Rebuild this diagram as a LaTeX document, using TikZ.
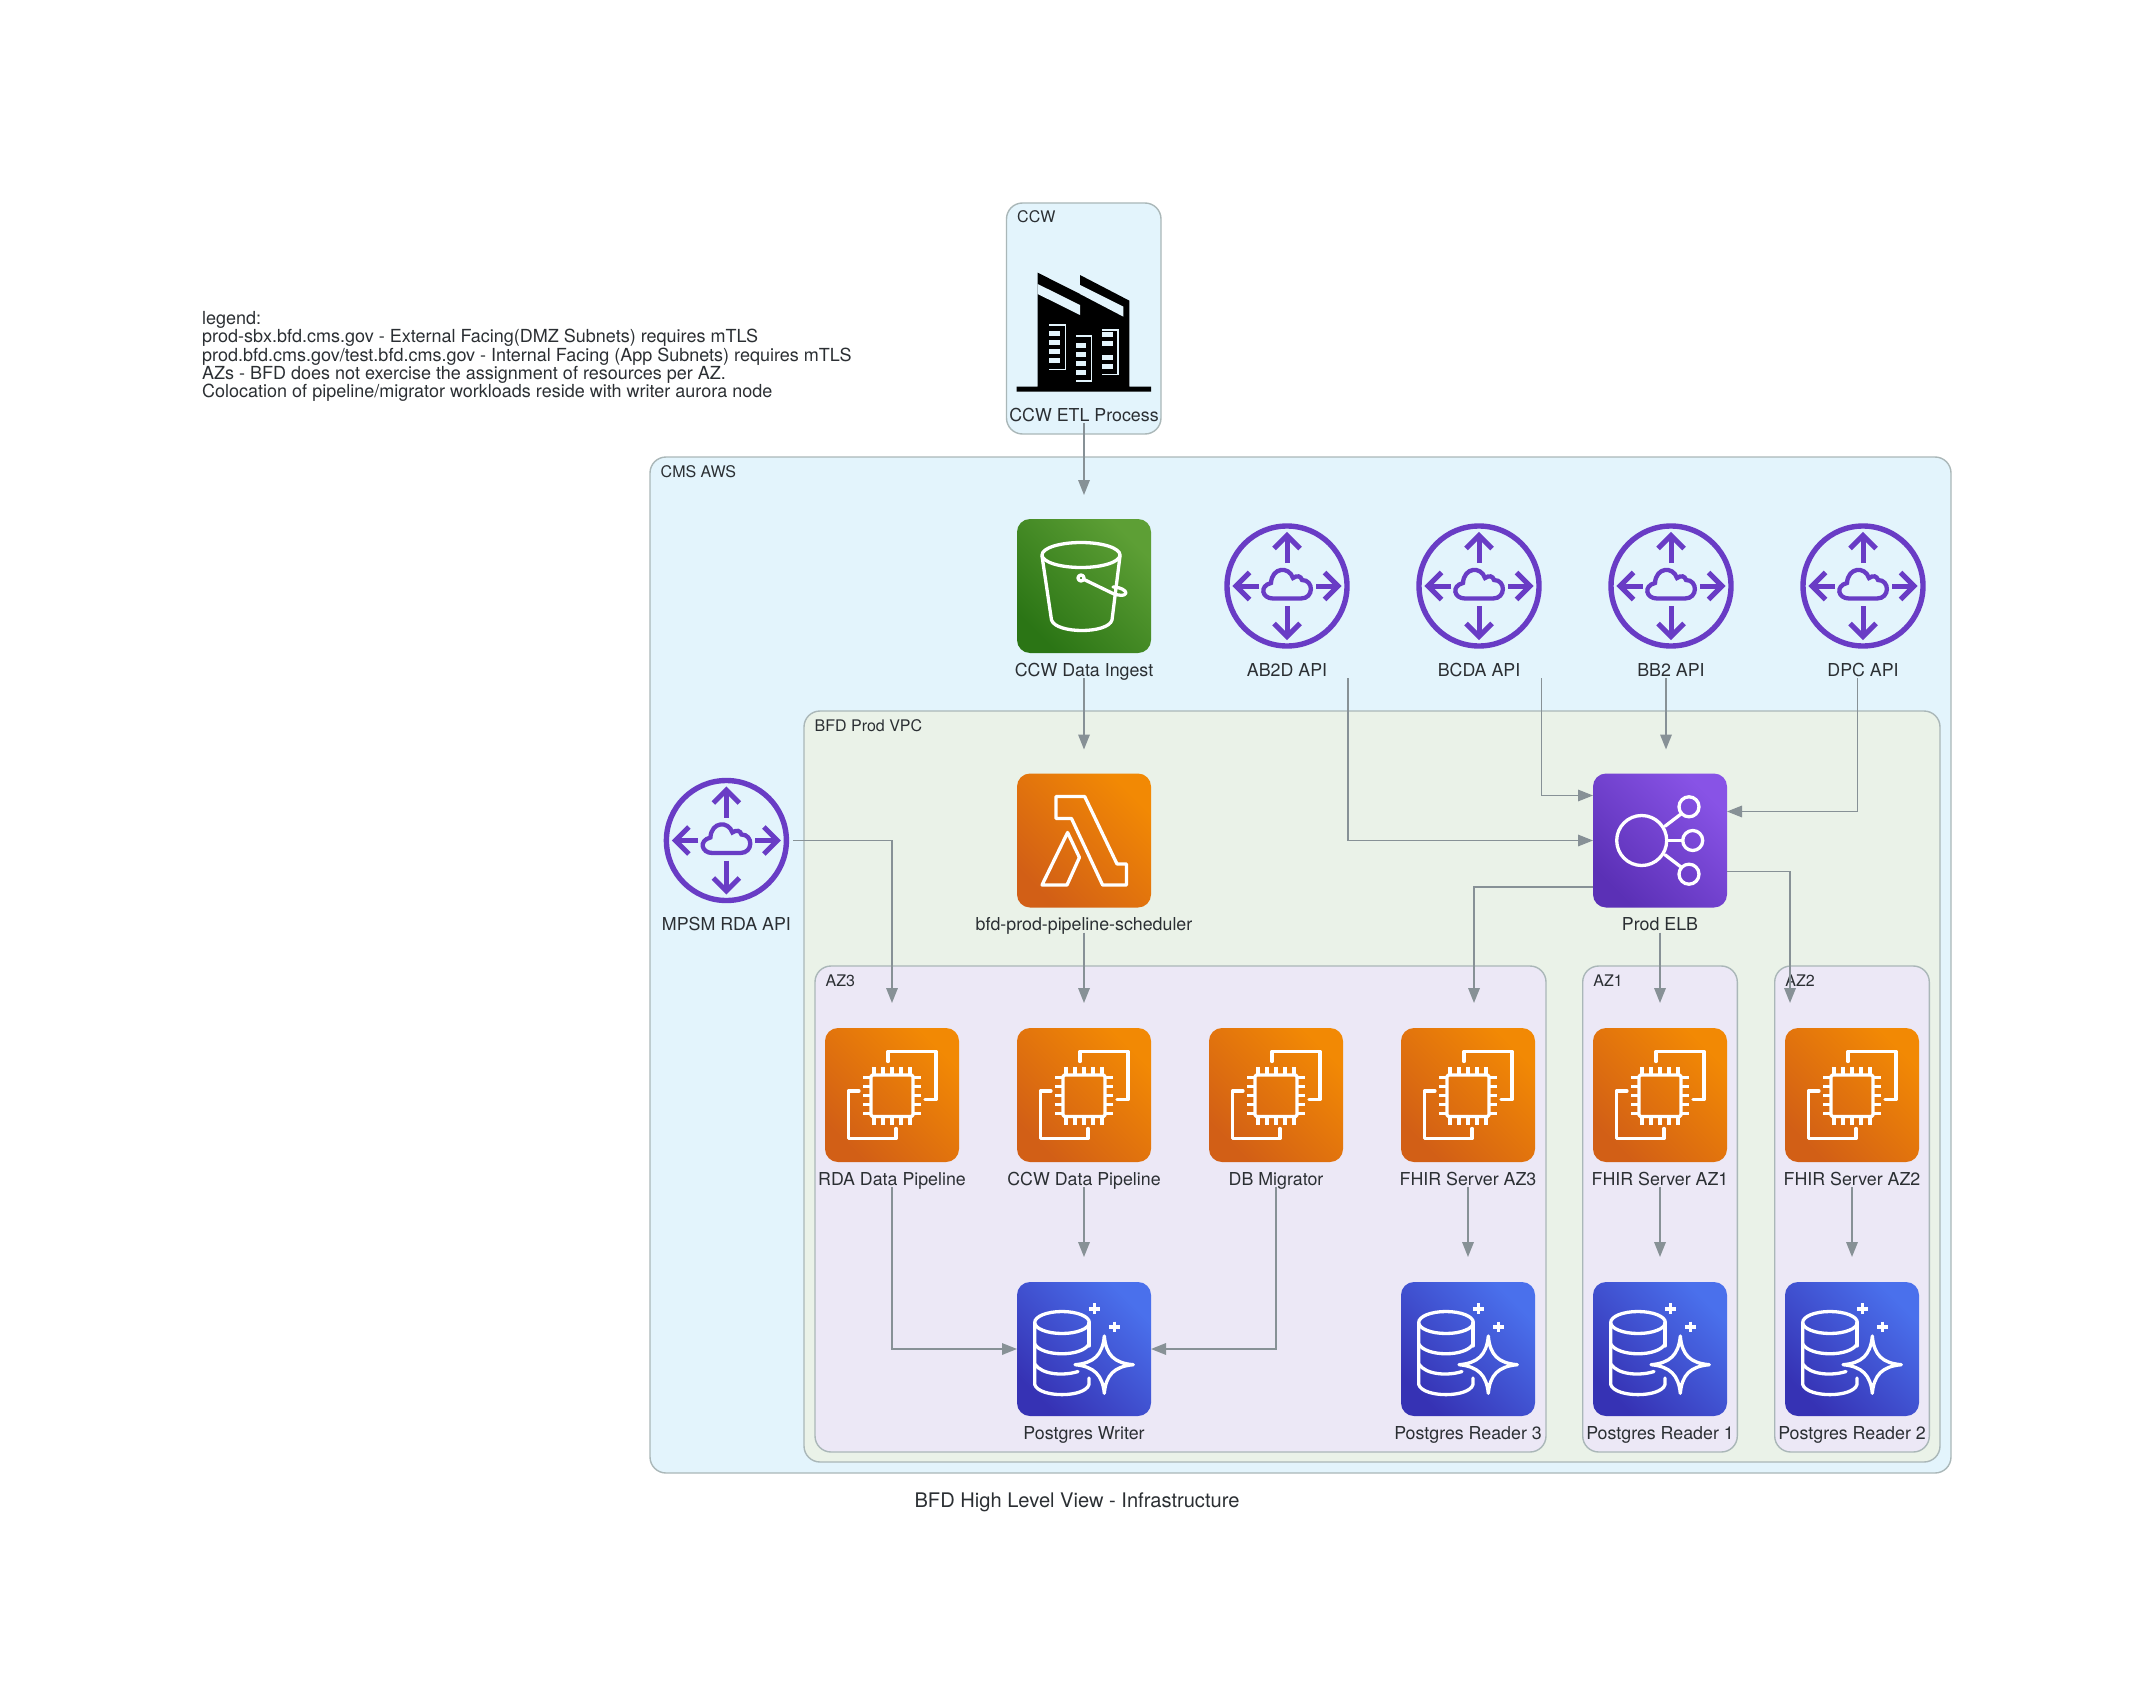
\documentclass[tikz,border=0pt]{standalone}
\usepackage{fontspec}
\setmainfont{TeX Gyre Heros}
\usepackage{xcolor}
\usepackage{tikz}
\usetikzlibrary{positioning}
\usetikzlibrary{arrows.meta}

\definecolor{cmsblue}{HTML}{E3F4FC}
\definecolor{vpcgreen}{HTML}{EAF2E8}
\definecolor{azlilac}{HTML}{ECE8F6}
\definecolor{edgegrey}{HTML}{AAB7B8}
\definecolor{flowgrey}{HTML}{879196}
\definecolor{inkgrey}{HTML}{2B2F33}
\definecolor{routerviolet}{HTML}{693CC5}
\definecolor{ec2low}{HTML}{D25F16}
\definecolor{ec2high}{HTML}{F28904}
\definecolor{s3low}{HTML}{2B7515}
\definecolor{s3high}{HTML}{5D9F35}
\definecolor{dblow}{HTML}{3632B4}
\definecolor{dbhigh}{HTML}{4A70EC}
\definecolor{elblow}{HTML}{5B30B6}
\definecolor{elbhigh}{HTML}{8853E6}

\tikzset{
	cluster/.style={draw=edgegrey, line width=1.4pt, rounded corners=16pt, inner sep=0pt, outer sep=0pt},
	clustertext/.style={anchor=base west, inner sep=0pt, text=inkgrey, font=\fontsize{16}{18}\selectfont},
	icon/.style={minimum size=134pt, inner sep=0pt, outer sep=0pt, rounded corners=13pt},
	bare/.style={minimum size=134pt, inner sep=0pt, outer sep=0pt},
	computeicon/.style={icon, bottom color=ec2low, top color=ec2high, shading angle=-45},
	storeicon/.style={icon, bottom color=s3low, top color=s3high, shading angle=-45},
	dbicon/.style={icon, bottom color=dblow, top color=dbhigh, shading angle=-45},
	elbicon/.style={icon, bottom color=elblow, top color=elbhigh, shading angle=-45},
	iconlabel/.style={inner sep=0pt, outer sep=0pt, text height=14pt, text depth=2pt, text=inkgrey, font=\fontsize{17.8}{20}\selectfont},
	flow/.style={draw=flowgrey, line width=1.7pt, -{Triangle[length=15pt,width=11.5pt]}},
	glyph/.style={draw=white, line width=3.3pt, line join=round, line cap=round},
	routerline/.style={draw=routerviolet, line width=5pt, line join=miter},
	bucketglyph/.pic={
		\draw[glyph] (-3,-31) ellipse [x radius=39, y radius=12.5];
		\draw[glyph] (-42,-30) -- (-32.5,34) .. controls (-28,48) and (24,48) .. (28,34) -- (36,-30);
		\draw[glyph] (-3,-8) circle (3);
		\draw[glyph] (0,-6.5) -- (30,8) .. controls (40,11) and (44,8) .. (41,5) .. controls (38,2) and (32,1) .. (29,1);
	},
	routerglyph/.pic={
		\draw[routerline, line width=5.4pt] (0,0) circle (60);
		\draw[routerline] (0,-23) -- (0,-50);
		\draw[routerline] (-13,-37.5) -- (0,-50.5) -- (13,-37.5);
		\draw[routerline] (0,20) -- (0,50);
		\draw[routerline] (-13,37.5) -- (0,50.5) -- (13,37.5);
		\draw[routerline] (-28,0) -- (-50,0);
		\draw[routerline] (-37.5,-13.5) -- (-51,0) -- (-37.5,13.5);
		\draw[routerline] (29,0) -- (50,0);
		\draw[routerline] (37.5,-13.5) -- (51,0) -- (37.5,13.5);
		\draw[routerline, line width=4.3pt] (-14,12.5) -- (14,12.5) .. controls (27,12.5) and (27,-6) .. (15,-6)
			.. controls (14,-10) and (10,-11) .. (6,-8) .. controls (2,-20) and (-15,-19) .. (-16,-3)
			.. controls (-28,0) and (-25,12.5) .. (-14,12.5) -- cycle;
	},
	lambdaglyph/.pic={
		\draw[glyph] (-28,-44) -- (0.7,-44) -- (33,23.5) -- (42.5,23.5) -- (42.5,44.5) -- (18.6,44.5) -- (-12.5,-22) -- (-28,-22) -- cycle;
		\draw[glyph] (-16.4,-8) -- (-4.6,17) -- (-17,44.5) -- (-42,44.5) -- cycle;
	},
	chipglyph/.pic={
		\draw[glyph, rounded corners=1.5pt] (-21,-20) rectangle (21,21.5);
		\foreach \t in {-18,-9,0,9,18} {
			\draw[glyph, line cap=butt] (\t,-20) -- (\t,-28);
			\draw[glyph, line cap=butt] (\t,21.5) -- (\t,29.5);
			\draw[glyph, line cap=butt] (-21,\t+0.7) -- (-29,\t+0.7);
			\draw[glyph, line cap=butt] (21,\t+0.7) -- (29,\t+0.7);
		}
		\draw[glyph] (-4,-33.5) -- (-4,-43.5) -- (44,-43.5) -- (44,4.5) -- (33,4.5);
		\draw[glyph] (-33,-4) -- (-43.5,-4) -- (-43.5,43.5) -- (4,43.5) -- (4,33.5);
	},
	elbglyph/.pic={
		\draw[glyph] (-18.3,0) circle (25);
		\draw[glyph] (29,-33.7) circle (10);
		\draw[glyph] (32.7,0) circle (10);
		\draw[glyph] (29,33.7) circle (10);
		\draw[glyph] (5,-14.3) -- (21,-26.5);
		\draw[glyph] (7.3,0) -- (22.7,0);
		\draw[glyph] (5,14.3) -- (21,26.5);
	},
	auroraglyph/.pic={
		\draw[glyph] (-22,-26.5) ellipse [x radius=27.3, y radius=11];
		\draw[glyph] (-49.3,-26) -- (-49.3,35.5) .. controls (-45,49) and (1,49) .. (5,35.5) -- (5,29);
		\draw[glyph] (5,-26) -- (5,-3);
		\draw[glyph] (-49.3,-5) .. controls (-42,8) and (-2,8) .. (5,-5);
		\draw[glyph] (-49.3,15) .. controls (-42,26) and (-20,27) .. (-6,22.5);
		\draw[glyph] (20.3,-13) .. controls (22,6) and (30,14) .. (49.3,15.7) .. controls (30,17.5) and (22,26) .. (20.3,44.3)
			.. controls (18.5,26) and (10,17.5) .. (-9,15.7) .. controls (10,14) and (18.5,6) .. (20.3,-13) -- cycle;
		\draw[glyph, line width=3.6pt, line cap=butt] (5,-40.3) -- (15.6,-40.3) (10.3,-45.6) -- (10.3,-35);
		\draw[glyph, line width=3.6pt, line cap=butt] (25,-22) -- (35.6,-22) (30.3,-27.3) -- (30.3,-16.7);
	},
	factoryglyph/.pic={
		\begin{scope}[x=0.3333pt, y=-0.3333pt, shift={(-252,-426)}]
			\fill[black] (113,248) -- (240,312) -- (240,255) -- (388,332) -- (388,590) -- (453,590) -- (453,605)
				-- (50,605) -- (50,590) -- (113,590) -- cycle;
			\fill[cmsblue] (113,282) -- (240,345) -- (240,375) -- (113,312) -- cycle;
			\fill[cmsblue] (240,285) -- (370,350) -- (370,380) -- (240,312) -- cycle;
			\foreach \y in {423,450,478,505} \fill[cmsblue] (148,\y) rectangle (180,\y+15);
			\foreach \y in {458,485,512,540} \fill[cmsblue] (228,\y) rectangle (258,\y+15);
			\foreach \y in {425,452,495,523} \fill[cmsblue] (306,\y) rectangle (338,\y+15);
			\draw[cmsblue, line width=1.2pt] (148,405) -- (197,405) -- (197,538) -- (148,538);
			\draw[cmsblue, line width=1.2pt] (228,438) -- (275,438) -- (275,573) -- (228,573);
			\draw[cmsblue, line width=1.2pt] (306,420) -- (354,420) -- (354,553) -- (306,553);
		\end{scope}
	},
}

\begin{document}
\begin{tikzpicture}[x=1pt, y=-1pt]
	\useasboundingbox (0,0) rectangle (2153,1707);

	% clusters
	\node[cluster, fill=cmsblue, minimum width=154.5pt, minimum height=231pt] (ccw) at (1083.75,318.5) {};
	\node[cluster, fill=cmsblue, minimum width=1301pt, minimum height=1016pt] (cmsaws) at (1300.5,965) {};
	\node[cluster, fill=vpcgreen, minimum width=1136pt, minimum height=751pt] (vpc) at (1372,1086.5) {};
	\node[cluster, fill=azlilac, minimum width=731pt, minimum height=486pt] (azthree) at (1180.5,1209) {};
	\node[cluster, fill=azlilac, minimum width=154.6pt, minimum height=486pt] (azone) at (1660,1209) {};
	\node[cluster, fill=azlilac, minimum width=154.6pt, minimum height=486pt] (aztwo) at (1852,1209) {};
	\node[clustertext] (ccwtext) at ([shift={(10.5pt,-20pt)}]ccw.north west) {CCW};
	\node[clustertext] (cmsawstext) at ([shift={(10.5pt,-20pt)}]cmsaws.north west) {CMS AWS};
	\node[clustertext] (vpctext) at ([shift={(10.5pt,-20pt)}]vpc.north west) {BFD Prod VPC};
	\node[clustertext] (azthreetext) at ([shift={(10.5pt,-20pt)}]azthree.north west) {AZ3};
	\node[clustertext] (azonetext) at ([shift={(10.5pt,-20pt)}]azone.north west) {AZ1};
	\node[clustertext] (aztwotext) at ([shift={(10.5pt,-20pt)}]aztwo.north west) {AZ2};

	% icons and their labels
	\node[bare] (etl) at (1084,332) {};
	\node[iconlabel, below=8pt of etl] (etltext) {CCW ETL Process};
	\node[storeicon] (ingest) at (1084,586) {};
	\node[iconlabel, below=9pt of ingest] (ingesttext) {CCW Data Ingest};
	\node[bare] (abtwod) at (1287,586) {};
	\node[iconlabel, below=9pt of abtwod] (abtwodtext) {AB2D API};
	\node[bare] (bcda) at (1479,586) {};
	\node[iconlabel, below=9pt of bcda] (bcdatext) {BCDA API};
	\node[bare] (bbtwo) at (1671,586) {};
	\node[iconlabel, below=9pt of bbtwo] (bbtwotext) {BB2 API};
	\node[bare] (dpc) at (1863,586) {};
	\node[iconlabel, below=9pt of dpc] (dpctext) {DPC API};
	\node[bare] (mpsm) at (726.4,840.5) {};
	\node[iconlabel, below=9pt of mpsm] (mpsmtext) {MPSM RDA API};
	\node[computeicon] (scheduler) at (1084,840.5) {};
	\node[iconlabel, below=9pt of scheduler] (schedulertext) {bfd-prod-pipeline-scheduler};
	\node[elbicon] (elb) at (1660,840.5) {};
	\node[iconlabel, below=9pt of elb] (elbtext) {Prod ELB};
	\node[computeicon] (rdapipe) at (892,1095) {};
	\node[iconlabel, below=9pt of rdapipe] (rdapipetext) {RDA Data Pipeline};
	\node[computeicon] (ccwpipe) at (1084,1095) {};
	\node[iconlabel, below=9pt of ccwpipe] (ccwpipetext) {CCW Data Pipeline};
	\node[computeicon] (migrator) at (1276,1095) {};
	\node[iconlabel, below=9pt of migrator] (migratortext) {DB Migrator};
	\node[computeicon] (fhirthree) at (1468,1095) {};
	\node[iconlabel, below=9pt of fhirthree] (fhirthreetext) {FHIR Server AZ3};
	\node[computeicon] (fhirone) at (1660,1095) {};
	\node[iconlabel, below=9pt of fhirone] (fhironetext) {FHIR Server AZ1};
	\node[computeicon] (fhirtwo) at (1852,1095) {};
	\node[iconlabel, below=9pt of fhirtwo] (fhirtwotext) {FHIR Server AZ2};
	\node[dbicon] (writer) at (1084,1349) {};
	\node[iconlabel, below=9pt of writer] (writertext) {Postgres Writer};
	\node[dbicon] (readerthree) at (1468,1349) {};
	\node[iconlabel, below=9pt of readerthree] (readerthreetext) {Postgres Reader 3};
	\node[dbicon] (readerone) at (1660,1349) {};
	\node[iconlabel, below=9pt of readerone] (readeronetext) {Postgres Reader 1};
	\node[dbicon] (readertwo) at (1852,1349) {};
	\node[iconlabel, below=9pt of readertwo] (readertwotext) {Postgres Reader 2};

	% glyphs
	\pic at (etl) {factoryglyph};
	\pic at (ingest) {bucketglyph};
	\pic at (abtwod) {routerglyph};
	\pic at (bcda) {routerglyph};
	\pic at (bbtwo) {routerglyph};
	\pic at (dpc) {routerglyph};
	\pic at (mpsm) {routerglyph};
	\pic at (scheduler) {lambdaglyph};
	\pic at (elb) {elbglyph};
	\pic at (rdapipe) {chipglyph};
	\pic at (ccwpipe) {chipglyph};
	\pic at (migrator) {chipglyph};
	\pic at (fhirthree) {chipglyph};
	\pic at (fhirone) {chipglyph};
	\pic at (fhirtwo) {chipglyph};
	\pic at (writer) {auroraglyph};
	\pic at (readerthree) {auroraglyph};
	\pic at (readerone) {auroraglyph};
	\pic at (readertwo) {auroraglyph};

	% connectors
	\draw[flow, shorten >=24pt] (etltext.south) -- (ingest.north);
	\draw[flow, shorten >=24pt] (ingesttext.south) -- (scheduler.north);
	\draw[flow] ([xshift=61pt]abtwodtext.south) |- (elb.west);
	\draw[flow] ([xshift=62.5pt]bcdatext.south) |- ([yshift=45pt]elb.west);
	\draw[flow, shorten >=24pt] ([xshift=-5pt]bbtwotext.south) -- ([xshift=6pt]elb.north);
	\draw[flow] ([xshift=-5.5pt]dpctext.south) |- ([yshift=29pt]elb.east);
	\draw[flow] (mpsm.east) -| ([yshift=25pt]rdapipe.north);
	\draw[flow, shorten >=25pt] (schedulertext.south) -- (ccwpipe.north);
	\draw[flow] ([yshift=-46.5pt]elb.west) -| ([shift={(6pt,25pt)}]fhirthree.north);
	\draw[flow, shorten >=25pt] (elbtext.south) -- (fhirone.north);
	\draw[flow] ([yshift=-31pt]elb.east) -| ([shift={(-62pt,25pt)}]fhirtwo.north);
	\draw[flow, shorten >=25pt] (ccwpipetext.south) -- (writer.north);
	\draw[flow] (rdapipetext.south) |- (writer.west);
	\draw[flow] (migratortext.south) |- (writer.east);
	\draw[flow, shorten >=25pt] (fhirthreetext.south) -- (readerthree.north);
	\draw[flow, shorten >=25pt] (fhironetext.south) -- (readerone.north);
	\draw[flow, shorten >=25pt] (fhirtwotext.south) -- (readertwo.north);

	% legend and title
	\node[anchor=north west, align=left, inner sep=0pt, text=inkgrey, font=\fontsize{18}{18.1}\selectfont] (legend) at (202,311.5) {legend:\\
		prod-sbx.bfd.cms.gov - External Facing(DMZ Subnets) requires mTLS\\
		prod.bfd.cms.gov/test.bfd.cms.gov - Internal Facing (App Subnets) requires mTLS\\
		AZs - BFD does not exercise the assignment of resources per AZ.\\
		Colocation of pipeline/migrator workloads reside with writer aurora node};
	\node[inner sep=0pt, text=inkgrey, font=\fontsize{20.1}{22}\selectfont] (title) at (1077,1502) {BFD High Level View - Infrastructure};
\end{tikzpicture}
\end{document}
